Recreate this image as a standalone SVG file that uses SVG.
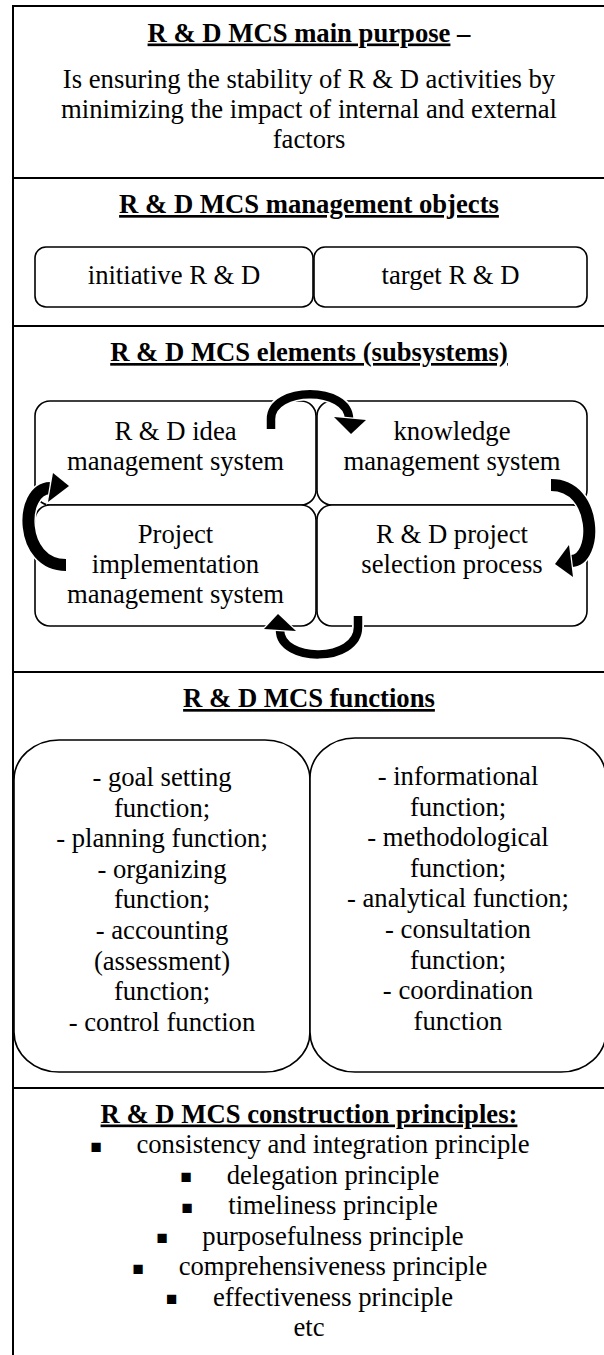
<svg xmlns="http://www.w3.org/2000/svg" width="604" height="1355" viewBox="0 0 604 1355">
<style>
.frame{fill:none;stroke:#000;stroke-width:2}
.div{stroke:#000;stroke-width:2}
.box{fill:#fff;stroke:#000;stroke-width:1.6}
.t{font-family:"Liberation Serif","Times New Roman",serif;font-size:26.67px;fill:#000;text-anchor:middle}
.h{font-weight:bold}
.u{text-decoration:underline;text-decoration-thickness:2.5px;text-underline-offset:3px}
.arr{fill:none;stroke:#000;stroke-linecap:butt}
.arrbg{fill:none;stroke:#fff;stroke-linecap:butt}
.head{fill:#000;stroke:#fff;stroke-width:2.5;paint-order:stroke;stroke-linejoin:miter}
.bul{font-family:"DejaVu Sans",sans-serif;font-size:18.5px;text-anchor:middle;fill:#000}
</style>
<rect x="0" y="0" width="604" height="1355" fill="#fff"/>
<g id="frame">
<rect class="frame" x="13" y="6" width="620" height="1380"/>
<line class="div" x1="13" y1="178" x2="610" y2="178"/>
<line class="div" x1="13" y1="326" x2="610" y2="326"/>
<line class="div" x1="13" y1="672" x2="610" y2="672"/>
<line class="div" x1="13" y1="1088" x2="610" y2="1088"/>
</g>
<g id="purpose">
<text class="t h" x="309" y="41.5"><tspan class="u">R &amp; D MCS main purpose</tspan> –</text>
<text class="t" x="309" y="88">Is ensuring the stability of R &amp; D activities by</text>
<text class="t" x="309" y="118">minimizing the impact of internal and external</text>
<text class="t" x="309" y="148">factors</text>
</g>
<g id="objects">
<text class="t h" x="309" y="213"><tspan class="u">R &amp; D MCS management objects</tspan></text>
</g>
<g id="obj-initiative">
<rect class="box" x="35" y="247" width="278" height="60" rx="11"/>
<text class="t" x="174" y="284">initiative R &amp; D</text>
</g>
<g id="obj-target">
<rect class="box" x="314" y="247" width="273" height="60" rx="11"/>
<text class="t" x="450.5" y="284">target R &amp; D</text>
</g>
<g id="elements">
<text class="t h" x="309" y="361"><tspan class="u">R &amp; D MCS elements (subsystems)</tspan></text>
</g>
<g id="el-idea">
<rect class="box" x="35" y="401" width="281" height="104" rx="15"/>
<text class="t" x="175.5" y="440">R &amp; D idea</text>
<text class="t" x="175.5" y="470">management system</text>
</g>
<g id="el-knowledge">
<rect class="box" x="317" y="401" width="270" height="104" rx="15"/>
<text class="t" x="452" y="440">knowledge</text>
<text class="t" x="452" y="470">management system</text>
</g>
<g id="el-implementation">
<rect class="box" x="35" y="505" width="281" height="121" rx="15"/>
<text class="t" x="175.5" y="543">Project</text>
<text class="t" x="175.5" y="573">implementation</text>
<text class="t" x="175.5" y="603">management system</text>
</g>
<g id="el-selection">
<rect class="box" x="317" y="505" width="270" height="121" rx="15"/>
<text class="t" x="452" y="543">R &amp; D project</text>
<text class="t" x="452" y="573">selection process</text>
</g>
<g id="connectors">
<path class="arrbg" stroke-width="12" d="M271 429 V419 C271 386 349 386 349 419"/>
<path class="arr" stroke-width="8.5" d="M271 429 V419 C271 386 349 386 349 419"/>
<polygon class="head" points="334,417 366,420 351,434"/>
<path class="arrbg" stroke-width="15" d="M551 485 C598 485 598 561 571 561"/>
<path class="arr" stroke-width="12" d="M551 485 C598 485 598 561 571 561"/>
<polygon class="head" points="569,545 573,577 555,564"/>
<path class="arrbg" stroke-width="15" d="M66 565 C19 565 19 489 50 488"/>
<path class="arr" stroke-width="12" d="M66 565 C19 565 19 489 50 488"/>
<polygon class="head" points="53,473 48,502 69,486"/>
<path class="arrbg" stroke-width="12" d="M358 616 V627 C358 663 280 663 280 630"/>
<path class="arr" stroke-width="8.5" d="M358 616 V627 C358 663 280 663 280 630"/>
<polygon class="head" points="264,629 296,631 278,614"/>
</g>
<g id="functions">
<text class="t h" x="309" y="707"><tspan class="u">R &amp; D MCS functions</tspan></text>
</g>
<g id="fn-management">
<rect class="box" x="14" y="740" width="296" height="332" rx="45" ry="40"/>
<text class="t" x="162" y="786">- goal setting</text>
<text class="t" x="162" y="816.6">function;</text>
<text class="t" x="162" y="847.2">- planning function;</text>
<text class="t" x="162" y="877.8">- organizing</text>
<text class="t" x="162" y="908.4">function;</text>
<text class="t" x="162" y="939">- accounting</text>
<text class="t" x="162" y="969.6">(assessment)</text>
<text class="t" x="162" y="1000.2">function;</text>
<text class="t" x="162" y="1030.8">- control function</text>
</g>
<g id="fn-support">
<rect class="box" x="310" y="738" width="296" height="334" rx="45" ry="40"/>
<text class="t" x="458" y="785">- informational</text>
<text class="t" x="458" y="815.6">function;</text>
<text class="t" x="458" y="846.2">- methodological</text>
<text class="t" x="458" y="876.8">function;</text>
<text class="t" x="458" y="907.4">- analytical function;</text>
<text class="t" x="458" y="938">- consultation</text>
<text class="t" x="458" y="968.6">function;</text>
<text class="t" x="458" y="999.2">- coordination</text>
<text class="t" x="458" y="1029.8">function</text>
</g>
<g id="principles">
<text class="t h" x="309" y="1122.5"><tspan class="u">R &amp; D MCS construction principles:</tspan></text>
<text class="bul" x="96" y="1151.5">▪</text>
<text class="t" x="333" y="1153">consistency and integration principle</text>
<text class="bul" x="186" y="1182">▪</text>
<text class="t" x="333" y="1183.5">delegation principle</text>
<text class="bul" x="187" y="1212.5">▪</text>
<text class="t" x="333" y="1214">timeliness principle</text>
<text class="bul" x="162" y="1243">▪</text>
<text class="t" x="333" y="1244.5">purposefulness principle</text>
<text class="bul" x="138" y="1273.5">▪</text>
<text class="t" x="333" y="1275">comprehensiveness principle</text>
<text class="bul" x="171.5" y="1304">▪</text>
<text class="t" x="333" y="1305.5">effectiveness principle</text>
<text class="t" x="309" y="1336">etc</text>
</g>
</svg>
